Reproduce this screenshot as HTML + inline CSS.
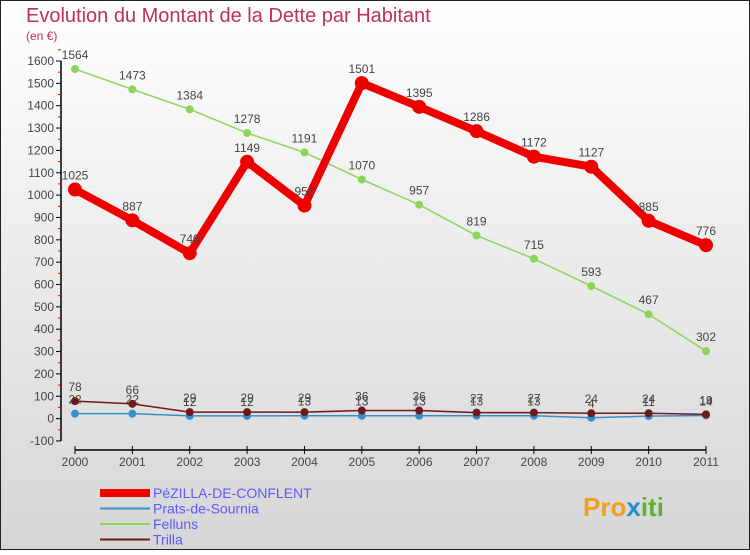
<!DOCTYPE html>
<html><head><meta charset="utf-8"><style>
body{margin:0;width:750px;height:550px;overflow:hidden;font-family:"Liberation Sans",sans-serif}
</style></head><body>
<svg width="750" height="550" xmlns="http://www.w3.org/2000/svg">
<defs><linearGradient id="bg" x1="0" y1="0" x2="0" y2="1"><stop offset="0" stop-color="#ffffff"/><stop offset="1" stop-color="#d6d6d6"/></linearGradient></defs>
<rect x="0.5" y="0.5" width="749" height="549" fill="url(#bg)" stroke="#222"/>
<text x="26" y="22" font-size="20" fill="#c0305a">Evolution du Montant de la Dette par Habitant</text>
<text x="26" y="40" font-size="12" fill="#c0305a">(en €)</text>
<g id="axes"></g><g id="series"></g><g id="legend"></g>
<text x="583" y="516" font-size="26" font-weight="bold" fill="#f0a020">Pro<tspan fill="#2a8ad0">x</tspan><tspan fill="#60b030">iti</tspan></text>
</svg>
<script>
const years=["2000","2001","2002","2003","2004","2005","2006","2007","2008","2009","2010","2011"];
const yTicks=[-100,0,100,200,300,400,500,600,700,800,900,1000,1100,1200,1300,1400,1500,1600];
const pezilla=[1025,887,740,1149,953,1501,1395,1286,1172,1127,885,776];
const prats=[22,22,12,12,13,13,13,13,13,4,11,14];
const felluns=[1564,1473,1384,1278,1191,1070,957,819,715,593,467,302];
const trilla=[78,66,29,29,29,36,36,27,27,24,24,19];
const NS="http://www.w3.org/2000/svg";
const X=i=>75+i*(706-75)/11;
const Y=v=>418.6-v*0.2235;
function mk(t,a,p){const e=document.createElementNS(NS,t);for(const k in a)e.setAttribute(k,a[k]);p.appendChild(e);return e;}
const ax=document.getElementById('axes');
let l=mk('line',{x1:61,y1:Y(1600),x2:61,y2:Y(-100),stroke:'#000','stroke-width':1.5},ax);


yTicks.forEach(v=>{
 mk('line',{x1:56,y1:Y(v),x2:61,y2:Y(v),stroke:'#000'},ax);
 mk('line',{x1:58,y1:Y(v+50),x2:61,y2:Y(v+50),stroke:'#e00'},ax);
 const t=mk('text',{x:54,y:Y(v)+4,'font-size':12,fill:'#444','text-anchor':'end'},ax);t.textContent=v;
 
 
});
l=mk('line',{x1:75,y1:450,x2:706,y2:450,stroke:'#000','stroke-width':1.5},ax);


years.forEach((y,i)=>{
 mk('line',{x1:X(i),y1:446,x2:X(i),y2:454,stroke:'#000'},ax);
 const t=mk('text',{x:X(i),y:466,'font-size':12,fill:'#444','text-anchor':'middle'},ax);t.textContent=y;
 
 
});
const sg=document.getElementById('series');
function series(d,col,w,r,name){
 const g=mk('g',{},sg);
 
 
 mk('polyline',{points:d.map((v,i)=>X(i)+','+Y(v)).join(' '),fill:'none',stroke:col,'stroke-width':w,'stroke-linejoin':'round'},g);
 d.forEach((v,i)=>{
  const c=mk('circle',{cx:X(i),cy:Y(v),r:r,fill:col},g);
  
  
  const t=mk('text',{x:X(i),y:Y(v)-10,'font-size':12,fill:'#444','text-anchor':'middle'},g);t.textContent=v;
  
  
 });
}
series(felluns,'#8fd45a',1.5,4,'felluns');
series(prats,'#3a8ec8',1.5,4,'prats');
series(trilla,'#6e1a1a',1.5,4,'trilla');
series(pezilla,'#ee0000',8,7,'pezilla');
const lg=document.getElementById('legend');
[['PéZILLA-DE-CONFLENT','#ee0000',8],['Prats-de-Sournia','#3a8ec8',2],['Felluns','#8fd45a',2],['Trilla','#6e1a1a',2]].forEach((e,i)=>{
 const y=493+i*15.5;
 const g=mk('g',{},lg);
 
 
 mk('line',{x1:100,y1:y,x2:150,y2:y,stroke:e[1],'stroke-width':e[2]},g);
 const t=mk('text',{x:153,y:y+5,'font-size':14,fill:'#5a5aff'},g);t.textContent=e[0];
});
</script>
</body></html>
